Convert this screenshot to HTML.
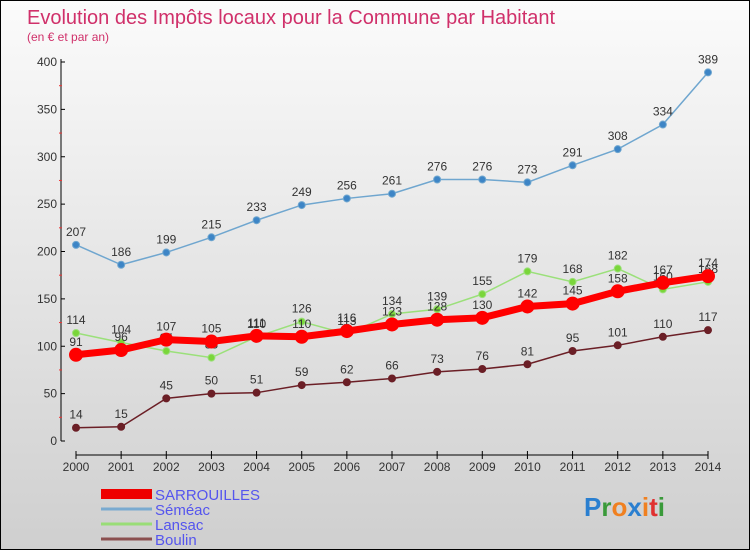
<!DOCTYPE html>
<html><head><meta charset="utf-8"><style>
body{margin:0;width:750px;height:550px;overflow:hidden;font-family:"Liberation Sans",sans-serif}
#wrap{position:relative;width:748px;height:548px;border:1px solid #000;background:linear-gradient(#fbfbfb,#cfcfcf)}
svg{position:absolute;left:0;top:0}
</style></head><body>
<div id="wrap">
<svg id="c" width="750" height="550">
<text x="26" y="23" font-size="20" fill="#d0306a">Evolution des Impôts locaux pour la Commune par Habitant</text>
<text x="26" y="40" font-size="12" fill="#d0306a">(en € et par an)</text>
</svg>
</div>
<script>
const years=[2000,2001,2002,2003,2004,2005,2006,2007,2008,2009,2010,2011,2012,2013,2014];
const sarrouilles=[91,96,107,105,111,110,116,123,128,130,142,145,158,167,174];
const semeac=[207,186,199,215,233,249,256,261,276,276,273,291,308,334,389];
const lansac=[114,104,95,88,110,126,113,134,139,155,179,168,182,160,168];
const boulin=[14,15,45,50,51,59,62,66,73,76,81,95,101,110,117];
const yTicks=[0,50,100,150,200,250,300,350,400];
const names=['SARROUILLES','Séméac','Lansac','Boulin'];
const svg=document.getElementById('c');const NS='http://www.w3.org/2000/svg';
const x=i=>75+i*(707-75)/(years.length-1);
const y=v=>440-v*(440-61)/400;
function mk(t,a,p){const e=document.createElementNS(NS,t);for(const k in a)e.setAttribute(k,a[k]);(p||svg).appendChild(e);return e;}
let ax=mk('line',{x1:60,y1:58,x2:60,y2:440,stroke:'#000'});


let bx=mk('line',{x1:75,y1:454,x2:707,y2:454,stroke:'#000'});


yTicks.forEach(v=>{mk('line',{x1:60,y1:y(v),x2:64,y2:y(v),stroke:'#000'});
 if(v<400)mk('line',{x1:58,y1:y(v+25),x2:61,y2:y(v+25),stroke:'#e33'});
 const t=mk('text',{x:56,y:y(v)+4,'font-size':12,'text-anchor':'end',fill:'#333'});t.textContent=v;
 
 });
years.forEach((yr,i)=>{mk('line',{x1:x(i),y1:450,x2:x(i),y2:458,stroke:'#000'});
 const t=mk('text',{x:x(i),y:470,'font-size':12,'text-anchor':'middle',fill:'#333'});t.textContent=yr;
 
 });
function series(data,color,w,r,name,dot){
 const g=mk('g',{});
 
 
 mk('polyline',{points:data.map((v,i)=>x(i)+','+y(v)).join(' '),fill:'none',stroke:color,'stroke-width':w},g);
 data.forEach((v,i)=>{const c=mk('circle',{cx:x(i),cy:y(v),r:r,fill:dot,stroke:color,'stroke-width':1},g);
  
  
  const t=mk('text',{x:x(i),y:y(v)-9,'font-size':12,'text-anchor':'middle',fill:'#333'},g);t.textContent=v;
  
  });
}
series(boulin,'#6b1f26',1.5,3.5,'boulin','#6b1f26');
series(semeac,'#6fa6cf',1.5,3.5,'semeac','#3d85c6');
series(lansac,'#9be07a',1.5,3.5,'lansac','#7ad63a');
series(sarrouilles,'#ff0000',7,6.5,'sarrouilles','#ff0000');
const lc=['#ee0000','#7aaad0','#99dd77','#8b5050'],lw=[10,3,3,3];
names.forEach((n,i)=>{const yy=493+i*15;
 const l=mk('line',{x1:100,y1:yy,x2:151,y2:yy,stroke:lc[i],'stroke-width':lw[i]});
 
 
 const t=mk('text',{x:154,y:yy+6,'font-size':15,fill:'#5555ee'});t.textContent=n;
 
 });
const logo=mk('text',{x:583,y:515,'font-size':26,'font-weight':'bold'});


[['P','#2a7fd0'],['r','#3a9a3a'],['o','#f08020'],['x','#2a7fd0'],['i','#f08020'],['t','#e03030'],['i','#3a9a3a']].forEach(([c,col])=>{const s=mk('tspan',{fill:col},logo);s.textContent=c;});
</script>
</body></html>
